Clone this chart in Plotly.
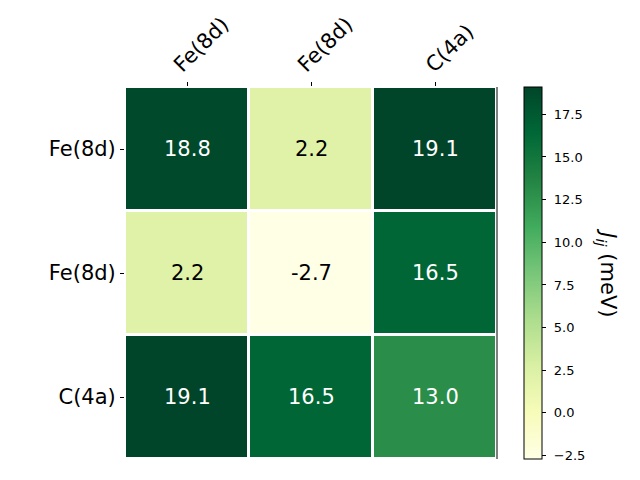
import plotly.graph_objects as go

row_labels = ["Fe(8d)", "Fe(8d)", "C(4a)"]
col_labels = ["Fe(8d)", "Fe(8d)", "C(4a)"]
values = [
    [18.8, 2.2, 19.1],
    [2.2, -2.7, 16.5],
    [19.1, 16.5, 13.0],
]
cbar_ticks = [-2.5, 0.0, 2.5, 5.0, 7.5, 10.0, 12.5, 15.0, 17.5]

zmin = min(min(r) for r in values)
zmax = max(max(r) for r in values)
idx = list(range(len(col_labels)))

fig = go.Figure()
fig.add_trace(go.Heatmap(
    z=values, x=idx, y=idx,
    colorscale="YlGn", zmin=zmin, zmax=zmax,
    xgap=3, ygap=3,
    hoverinfo="skip",
    colorbar=dict(
        thickness=18, len=1, lenmode="fraction", y=0.5, yanchor="middle",
        x=1.0726, xanchor="left", xref="paper", xpad=0, ypad=0,
        outlinewidth=1, outlinecolor="black",
        tickvals=cbar_ticks,
        ticktext=["\u2009\u2009" + ("\u2212" if t < 0 else "") + f"{abs(t):.1f}" for t in cbar_ticks],
        ticks="outside", ticklen=4, tickcolor="black",
        tickfont=dict(family="DejaVu Sans", size=13, color="black"),
    ),
))

mid = (zmin + zmax) / 2
for i, row in enumerate(values):
    for j, v in enumerate(row):
        fig.add_annotation(
            x=j, y=i, text=f"{v:.1f}", showarrow=False,
            font=dict(family="DejaVu Sans", size=21,
                      color="white" if v > mid else "black"),
        )

for j, lab in enumerate(col_labels):
    fig.add_annotation(
        x=j, xref="x", y=1, yref="paper", text=lab, showarrow=False,
        textangle=-45, xanchor="center", yanchor="bottom",
        xshift=14, yshift=7,
        font=dict(family="DejaVu Sans", size=21, color="black"),
    )

fig.add_annotation(
    xref="paper", yref="paper", x=1.295, y=0.5,
    text="<i>J</i><sub><i>ij</i></sub> (meV)", showarrow=False, textangle=90,
    font=dict(family="DejaVu Sans", size=21, color="black"),
    xanchor="center", yanchor="middle",
)

fig.add_shape(type="line", xref="paper", yref="paper", x0=1, x1=1, y0=0, y1=1,
              line=dict(color="black", width=1))

fig.update_xaxes(
    side="top", tickvals=idx, showticklabels=False,
    ticks="outside", ticklen=4, tickcolor="black", showgrid=False, zeroline=False,
    range=[-0.5, 2.5], automargin=False,
)
fig.update_yaxes(
    tickvals=idx, ticktext=row_labels, autorange=False, range=[2.5, -0.5],
    ticks="outside", ticklen=4, tickcolor="black", showgrid=False, zeroline=False,
    automargin=False,
    tickfont=dict(family="DejaVu Sans", size=21, color="black"),
)

fig.update_layout(
    width=624, height=464,
    margin=dict(l=117, r=135, t=79, b=13, autoexpand=False),
    paper_bgcolor="white", plot_bgcolor="white",
    showlegend=False,
)

fig.write_html("out.html")
